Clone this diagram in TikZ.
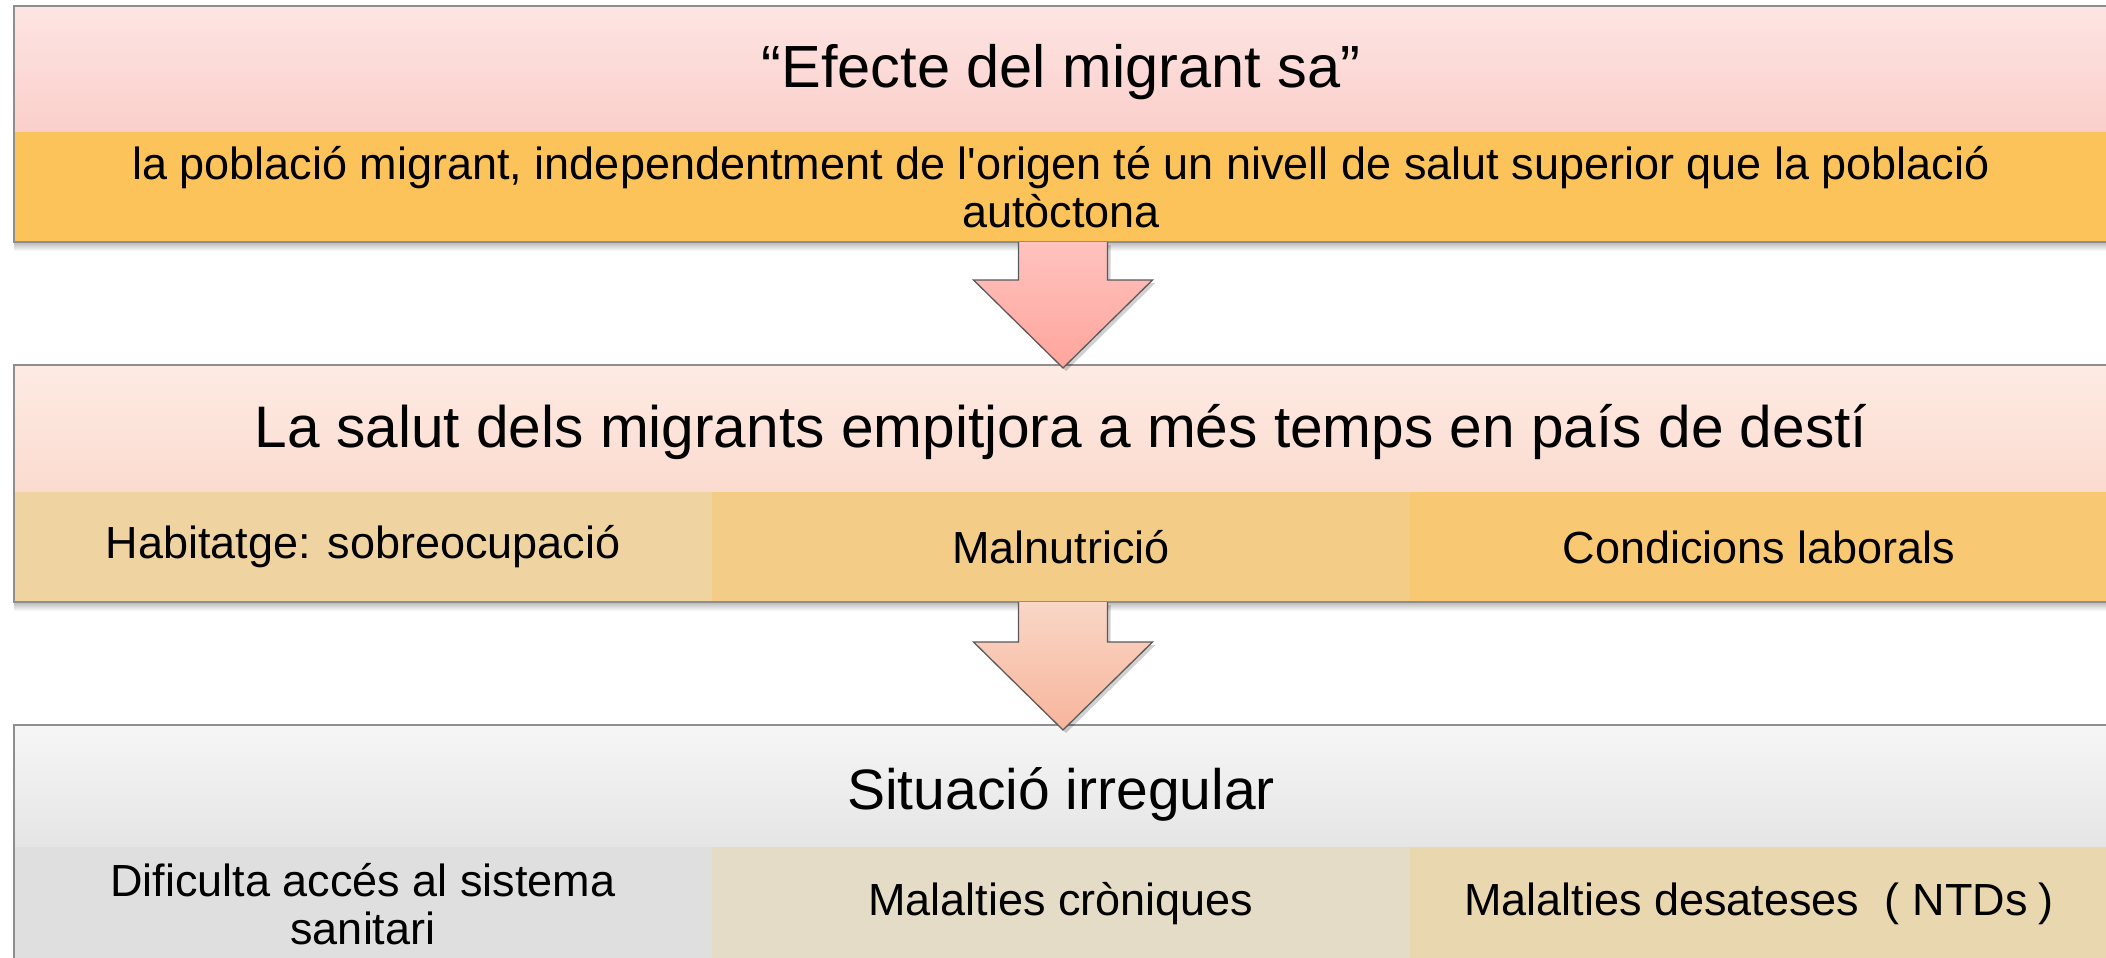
\documentclass[tikz,border=0pt]{standalone}
\usepackage{fontspec}
\setmainfont{Liberation Sans}[Ligatures=TeXOff]
\usetikzlibrary{calc}
\definecolor{tOneA}{HTML}{FDE5E3}
\definecolor{tOneB}{HTML}{FBCFCB}
\definecolor{rOne}{HTML}{FCC35B}
\definecolor{tTwoA}{HTML}{FDEBE3}
\definecolor{tTwoB}{HTML}{FCDBCF}
\definecolor{rTwoA}{HTML}{EFD3A0}
\definecolor{rTwoB}{HTML}{F3CD87}
\definecolor{rTwoC}{HTML}{F9C872}
\definecolor{tThrA}{HTML}{F6F6F6}
\definecolor{tThrB}{HTML}{E5E5E5}
\definecolor{rThrA}{HTML}{DFDFDF}
\definecolor{rThrB}{HTML}{E5DCC7}
\definecolor{rThrC}{HTML}{E9D7B0}
\definecolor{arOneA}{HTML}{FFC2BE}
\definecolor{arOneB}{HTML}{FFA59C}
\definecolor{arTwoA}{HTML}{F9D6C6}
\definecolor{arTwoB}{HTML}{F8B59B}
\definecolor{framegray}{HTML}{8E8E8E}
\definecolor{arrowline}{HTML}{5A5A5A}
\tikzset{
  part/.style={rectangle, inner sep=0pt, outer sep=0pt, anchor=north west, align=center},
  titlefont/.style={font=\fontsize{#1}{66}\selectfont},
  rowfont/.style={font=\fontsize{45}{48}\selectfont},
  frame/.style={draw=framegray, line width=1.6pt},
  barrow/.style={draw=arrowline, line width=1.3pt, line join=miter},
  bshadow/.style={top color=black!28, bottom color=white, draw=none},
}
\newcommand\dnby[2]{\raisebox{-#1}[\height][\depth]{#2}}
\newcommand\blockarrow[4]{% start, tip, top colour, bottom colour
  \fill[black, opacity=0.18] ($(#1)+(-41.5,3)$) -- ($(#2)+(-41.5,-85)$) -- ($(#2)+(-86.5,-85)$)
     -- ($(#2)+(3,3)$) -- ($(#2)+(92.5,-85)$) -- ($(#2)+(47.5,-85)$) -- ($(#1)+(47.5,3)$) -- cycle;
  \path[barrow, top color=#3, bottom color=#4] ($(#1)+(-44.5,0)$) -- ($(#2)+(-44.5,-88)$) -- ($(#2)+(-89.5,-88)$)
     -- (#2) -- ($(#2)+(89.5,-88)$) -- ($(#2)+(44.5,-88)$) -- ($(#1)+(44.5,0)$);
}
\begin{document}
\begin{tikzpicture}[x=1pt, y=-1pt]
\useasboundingbox (0,0) rectangle (2106,958);
\fill[white] (0,0) rectangle (2106,958);

% ---------- box 1 ----------
\shade[bshadow] (14,242) rectangle (2108,251);
\node[part, minimum width=2094, minimum height=126, top color=tOneA, bottom color=tOneB, titlefont=59.5] (t1) at (14,6) {\dnby{3pt}{“Efecte del migrant sa”}};
\node[part, minimum width=2094, minimum height=110, fill=rOne, rowfont] (r1) at (14,132)
  {la població migrant, independentment de l'origen té un nivell de salut superior que la població\\autòctona};
\draw[frame] (t1.north west) rectangle (r1.south east);

% ---------- box 2 ----------
\shade[bshadow] (14,602) rectangle (2108,611);
\node[part, minimum width=2094, minimum height=127, top color=tTwoA, bottom color=tTwoB, titlefont=58.6] (t2) at (14,365) {\dnby{4pt}{La salut dels migrants empitjora a més temps en país de destí}};
\node[part, minimum width=698, minimum height=110, fill=rTwoA, rowfont] (r2a) at (14,492) {Habitatge: sobreocupació};
\node[part, minimum width=698, minimum height=110, fill=rTwoB, rowfont] (r2b) at (712,492) {Malnutrició};
\node[part, minimum width=698, minimum height=110, fill=rTwoC, rowfont] (r2c) at (1410,492) {Condicions laborals};
\draw[frame] (t2.north west) rectangle (r2c.south east);

% ---------- box 3 ----------
\node[part, minimum width=2094, minimum height=122, top color=tThrA, bottom color=tThrB, titlefont=57] (t3) at (14,725) {\dnby{8pt}{Situació irregular}};
\node[part, minimum width=698, minimum height=114, fill=rThrA, rowfont] (r3a) at (14,847) {Dificulta accés al sistema\\sanitari};
\node[part, minimum width=698, minimum height=114, fill=rThrB, rowfont] (r3b) at (712,847) {Malalties cròniques};
\node[part, minimum width=698, minimum height=114, fill=rThrC, rowfont] (r3c) at (1410,847) {Malalties desateses\hspace{0.55em}(\hspace{0.3em}NTDs\hspace{0.25em})};
\draw[frame] (t3.north west) rectangle (r3c.south east);

% ---------- arrows ----------
\coordinate (a1s) at (1063,242);
\coordinate (a1e) at (1063,368);
\coordinate (a2s) at (1063,602);
\coordinate (a2e) at (1063,730);
\blockarrow{a1s}{a1e}{arOneA}{arOneB}
\blockarrow{a2s}{a2e}{arTwoA}{arTwoB}
\end{tikzpicture}
\end{document}
